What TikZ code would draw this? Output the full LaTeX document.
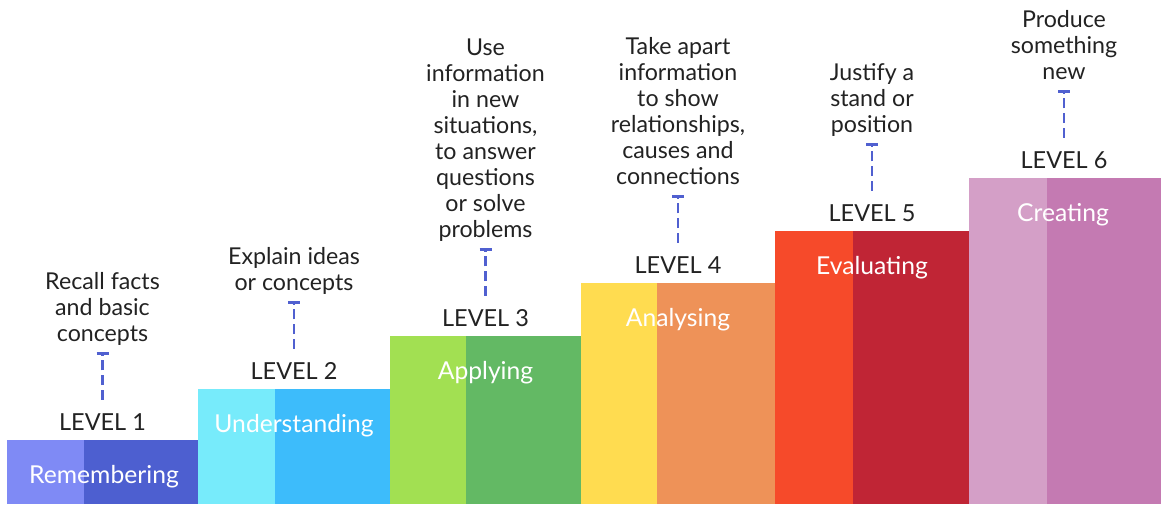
\documentclass[tikz,border=0pt]{standalone}
\usepackage{fontspec}
\setmainfont{Lato}
\usetikzlibrary{arrows.meta}
\definecolor{l1}{HTML}{7F8AF5}\definecolor{d1}{HTML}{4D5FD0}
\definecolor{l2}{HTML}{77EBFB}\definecolor{d2}{HTML}{3DBCFB}
\definecolor{l3}{HTML}{A2E052}\definecolor{d3}{HTML}{63B964}
\definecolor{l4}{HTML}{FFDC50}\definecolor{d4}{HTML}{EE9258}
\definecolor{l5}{HTML}{F64A2A}\definecolor{d5}{HTML}{C02535}
\definecolor{l6}{HTML}{D49FC7}\definecolor{d6}{HTML}{C47AB2}
\definecolor{conncol}{HTML}{5060D0}
\definecolor{txt}{HTML}{222222}
\tikzset{
  desc/.style={anchor=south, inner sep=0pt, text depth=0pt, align=center, text=txt,
    font=\fontsize{17.4pt}{19.5pt}\selectfont},
  lvl/.style={anchor=base, inner sep=0pt, text height=22.5pt, text=txt,
    font=\fontsize{17.6pt}{20pt}\selectfont},
  barlabel/.style={anchor=base, inner sep=0pt, text=white,
    font=\fontsize{18.5pt}{20pt}\selectfont},
  conn/.style={draw=conncol, line width=2.2pt, dash pattern=on 7.5pt off 3.5pt,
    -{Bar[width=9pt,line width=2.2pt]}, shorten >=7.5pt}
}
\begin{document}
\begin{tikzpicture}[x=0.75pt,y=-0.75pt]
\useasboundingbox (0,0) rectangle (1161,504);
% bars
\fill[l1] (7,440) rectangle (84,504);   \fill[d1] (84,440) rectangle (198,504);
\fill[l2] (198,389) rectangle (275,504); \fill[d2] (275,389) rectangle (390,504);
\fill[l3] (390,336) rectangle (466,504); \fill[d3] (466,336) rectangle (581,504);
\fill[l4] (581,283) rectangle (657,504); \fill[d4] (657,283) rectangle (775,504);
\fill[l5] (775,231) rectangle (853,504); \fill[d5] (853,231) rectangle (969,504);
\fill[l6] (969,178) rectangle (1047,504); \fill[d6] (1047,178) rectangle (1161,504);
% bar labels
\node[barlabel] (b1) at (104,483) {Remembering};
\node[barlabel] (b2) at (294,432) {Understanding};
\node[barlabel] (b3) at (485.5,379) {Applying};
\node[barlabel] (b4) at (678,326) {Analysing};
\node[barlabel] (b5) at (872,274) {Evaluating};
\node[barlabel] (b6) at (1063,221) {Creating};
% level labels
\node[lvl] (v1) at (102.5,430) {LEVEL 1};
\node[lvl] (v2) at (294,379) {LEVEL 2};
\node[lvl] (v3) at (485.5,326) {LEVEL 3};
\node[lvl] (v4) at (678,273) {LEVEL 4};
\node[lvl] (v5) at (872,221) {LEVEL 5};
\node[lvl] (v6) at (1064,168) {LEVEL 6};
% descriptions
\node[desc] (t1) at (102.5,342) {Recall facts\\and basic\\concepts};
\node[desc] (t2) at (294,291) {Explain ideas\\or concepts};
\node[desc] (t3) at (485.5,238) {Use\\information\\in new\\situations,\\to answer\\questions\\or solve\\problems};
\node[desc] (t4) at (678,185) {Take apart\\information\\to show\\relationships,\\causes and\\connections};
\node[desc] (t5) at (872,133) {Justify a\\stand or\\position};
\node[desc] (t6) at (1064,80) {Produce\\something\\new};
% connectors
\foreach \i in {1,...,6} { \draw[conn] (v\i.north) -- (t\i.south); }
\end{tikzpicture}
\end{document}
